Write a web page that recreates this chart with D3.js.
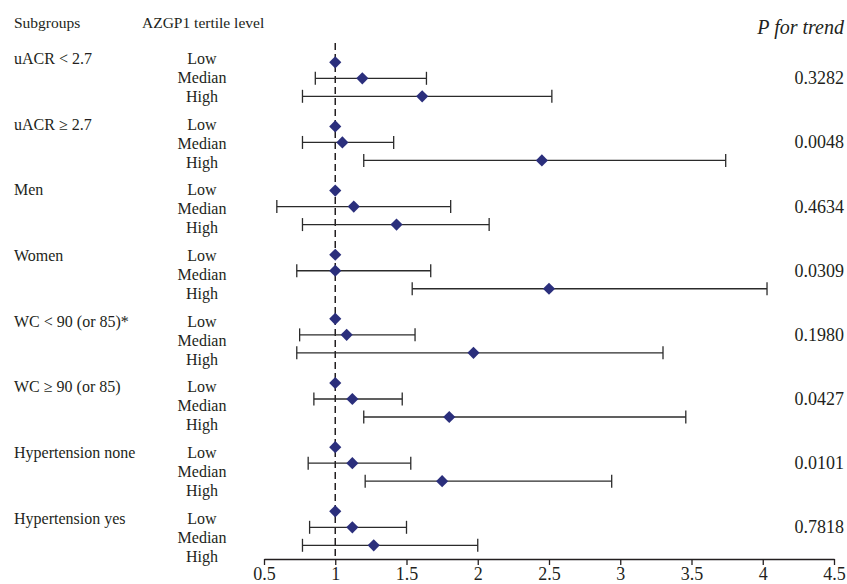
<!DOCTYPE html>
<html>
<head>
<meta charset="utf-8">
<script src="https://cdn.jsdelivr.net/npm/d3@7"></script>
<style>
    body { margin: 0; background: #fff; }
    text { font-family: "Liberation Serif", "DejaVu Serif", serif; fill: #231f20; }
</style>
</head>
<body>
<script>
var subgroups = ["uACR < 2.7", "uACR \u2265 2.7", "Men", "Women",
    "WC < 90 (or 85)*", "WC \u2265 90 (or 85)", "Hypertension none", "Hypertension yes"];
var levels = ["Low", "Median", "High"];

// Low tertile is the reference (OR = 1, no interval)
var lowOR = [1, 1, 1, 1, 1, 1, 1, 1];
var medianOR = [1.19, 1.05, 1.13, 1.00, 1.08, 1.12, 1.12, 1.12];
var medianLower = [0.86, 0.77, 0.59, 0.73, 0.75, 0.85, 0.81, 0.82];
var medianUpper = [1.64, 1.41, 1.81, 1.67, 1.56, 1.47, 1.53, 1.50];
var highOR = [1.61, 2.45, 1.43, 2.50, 1.97, 1.80, 1.75, 1.27];
var highLower = [0.77, 1.20, 0.77, 1.54, 0.73, 1.20, 1.21, 0.77];
var highUpper = [2.52, 3.74, 2.08, 4.03, 3.30, 3.46, 2.94, 2.00];
var pTrend = ["0.3282", "0.0048", "0.4634", "0.0309", "0.1980", "0.0427", "0.0101", "0.7818"];
var xTicks = [0.5, 1, 1.5, 2, 2.5, 3, 3.5, 4, 4.5];

var width = 847,
    height = 584;

var svg = d3.select("body").append("svg")
    .attr("width", width)
    .attr("height", height);

var x = d3.scaleLinear().domain([0.5, 4.5]).range([264, 834]);

// marks and text labels sit on slightly different grids in the original
var yMark = d3.scaleLinear().domain([0, 7]).range([62.3, 511.3]);
var markOffset = [0, 16, 34];
var yText = d3.scaleLinear().domain([0, 7]).range([58.3, 518.3]);
var textOffset = [0, 19, 38];

var rows = [];
subgroups.forEach(function(g, i) {
    rows.push({ group: i, level: 0, or: lowOR[i], lo: null, hi: null });
    rows.push({ group: i, level: 1, or: medianOR[i], lo: medianLower[i], hi: medianUpper[i] });
    rows.push({ group: i, level: 2, or: highOR[i], lo: highLower[i], hi: highUpper[i] });
});

function rowY(d) {
    return yMark(d.group) + markOffset[d.level];
}

// headers
svg.append("text")
    .attr("x", 14).attr("y", 22)
    .attr("dominant-baseline", "central")
    .style("font-size", "15.5px")
    .text("Subgroups");

svg.append("text")
    .attr("x", 142).attr("y", 22)
    .attr("dominant-baseline", "central")
    .style("font-size", "15.5px")
    .text("AZGP1 tertile level");

svg.append("text")
    .attr("x", 844).attr("y", 27)
    .attr("text-anchor", "end")
    .attr("dominant-baseline", "central")
    .style("font-size", "20px")
    .style("font-style", "italic")
    .text("P for trend");

// subgroup names
svg.selectAll("text.group")
    .data(subgroups)
    .enter().append("text")
    .attr("class", "group")
    .attr("x", 14)
    .attr("y", function(d, i) {
        return yText(i);
    })
    .attr("dominant-baseline", "central")
    .style("font-size", "16px")
    .text(function(d) {
        return d;
    });

// tertile labels
svg.selectAll("text.level")
    .data(rows)
    .enter().append("text")
    .attr("class", "level")
    .attr("x", 202)
    .attr("y", function(d) {
        return yText(d.group) + textOffset[d.level];
    })
    .attr("text-anchor", "middle")
    .attr("dominant-baseline", "central")
    .style("font-size", "16px")
    .text(function(d) {
        return levels[d.level];
    });

// p for trend
svg.selectAll("text.p")
    .data(pTrend)
    .enter().append("text")
    .attr("class", "p")
    .attr("x", 844)
    .attr("y", function(d, i) {
        return yMark(i) + markOffset[1];
    })
    .attr("text-anchor", "end")
    .attr("dominant-baseline", "central")
    .style("font-size", "18px")
    .text(function(d) {
        return d;
    });

// x axis
var axisY = 559;
var axis = svg.append("g")
    .attr("transform", "translate(0," + axisY + ")")
    .call(d3.axisBottom(x)
        .tickValues(xTicks)
        .tickSize(6)
        .tickSizeOuter(0)
        .tickFormat(function(d) {
            return d;
        }));

axis.select(".domain").attr("stroke", "#231f20").attr("stroke-width", 1.3);
axis.selectAll(".tick line").attr("stroke", "#231f20").attr("stroke-width", 1.3);
axis.selectAll(".tick text")
    .attr("y", 15)
    .attr("dy", null)
    .attr("dominant-baseline", "central")
    .style("font-family", "'Liberation Serif', serif")
    .style("font-size", "18px")
    .attr("fill", "#231f20");

// reference line at OR = 1
svg.append("line")
    .attr("x1", x(1)).attr("x2", x(1))
    .attr("y1", 43).attr("y2", axisY)
    .attr("stroke", "#231f20")
    .attr("stroke-width", 1.5)
    .attr("stroke-dasharray", "7,4");

// confidence intervals
var ci = rows.filter(function(d) {
    return d.lo !== null;
});

svg.selectAll("line.ci")
    .data(ci)
    .enter().append("line")
    .attr("class", "ci")
    .attr("x1", function(d) { return x(d.lo); })
    .attr("x2", function(d) { return x(d.hi); })
    .attr("y1", rowY)
    .attr("y2", rowY)
    .attr("stroke", "#2b2b2b")
    .attr("stroke-width", 1.3);

["lo", "hi"].forEach(function(k) {
    svg.selectAll("line.cap-" + k)
        .data(ci)
        .enter().append("line")
        .attr("class", "cap-" + k)
        .attr("x1", function(d) { return x(d[k]); })
        .attr("x2", function(d) { return x(d[k]); })
        .attr("y1", function(d) { return rowY(d) - 6.5; })
        .attr("y2", function(d) { return rowY(d) + 6.5; })
        .attr("stroke", "#2b2b2b")
        .attr("stroke-width", 1.3);
});

// diamonds
svg.selectAll("path.point")
    .data(rows)
    .enter().append("path")
    .attr("class", "point")
    .attr("d", d3.symbol().type(d3.symbolSquare).size(74))
    .attr("transform", function(d) {
        return "translate(" + x(d.or) + "," + rowY(d) + ") rotate(45)";
    })
    .attr("fill", "#2b2f7c");
</script>
</body>
</html>
